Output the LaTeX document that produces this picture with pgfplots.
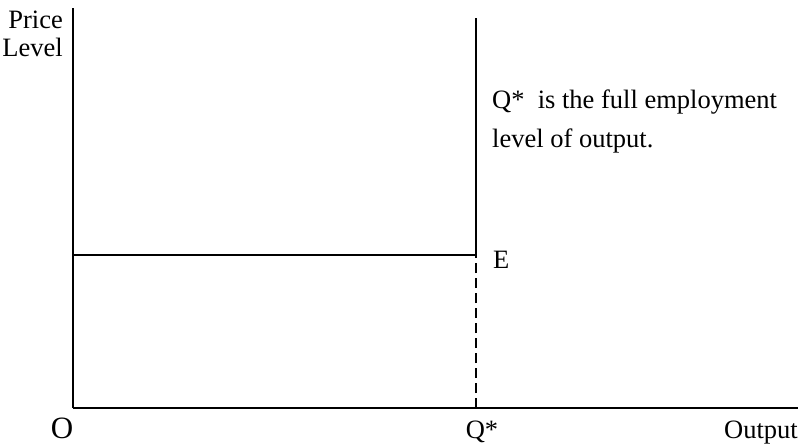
\documentclass[border=0pt]{standalone}
\usepackage{fontspec}
\setmainfont{Liberation Serif}
\usepackage{pgfplots}
\pgfplotsset{compat=1.18}
\tikzset{lbl/.style={font=\fontsize{26.5}{29}\selectfont, inner sep=0pt}}
\begin{document}
\begin{tikzpicture}[x=1pt,y=1pt]
\begin{axis}[
  scale only axis,
  width=725pt, height=400pt,
  xmin=0, xmax=725, ymin=0, ymax=400,
  axis lines=left,
  axis line style={-, line width=2pt, black},
  xtick=\empty, ytick=\empty,
  clip=false,
]
% long-run aggregate supply: full employment output Q*
\addplot[black, line width=2pt] coordinates {(403,153) (403,390)};
\addplot[black, line width=2pt, dash pattern=on 10pt off 5pt] coordinates {(403,0) (403,153)};
% price level at equilibrium E
\addplot[black, line width=2pt] coordinates {(0,153) (403,153)};

\node[lbl, anchor=base east] at (axis cs:-10,379) {Price};
\node[lbl, anchor=base east] at (axis cs:-10,351) {Level};
\node[inner sep=0pt, anchor=base] at (axis cs:-11,-30) {\fontsize{31}{34}\selectfont O};
\node[lbl, anchor=base] at (axis cs:409,-30) {Q*};
\node[lbl, anchor=base east] at (axis cs:725,-30) {Output};
\node[lbl, anchor=base west] at (axis cs:420,140) {E};
\node[lbl, anchor=base west] at (axis cs:419,299) {Q*~~is the full employment};
\node[lbl, anchor=base west] at (axis cs:419,260) {level of output.};

\coordinate (bbsw) at (axis cs:-73,-37);
\coordinate (bbne) at (axis cs:728,408);
\end{axis}
\pgfresetboundingbox
\useasboundingbox (bbsw) rectangle (bbne);
\end{tikzpicture}
\end{document}
